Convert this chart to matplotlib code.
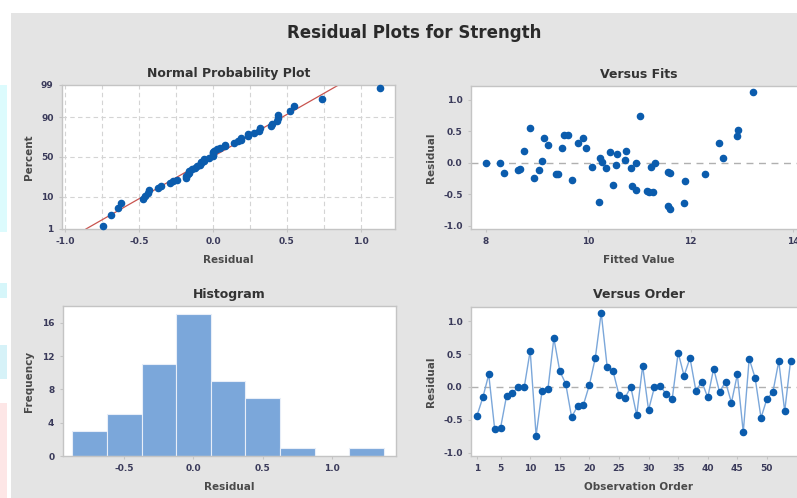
import numpy as np
import matplotlib
matplotlib.use('Agg')
import matplotlib.pyplot as plt
from matplotlib.patches import Rectangle
from statistics import NormalDist

# residuals in observation order
resid = [-0.44, -0.16, 0.19, -0.64, -0.62, -0.14, -0.09, 0.00, 0.00, 0.55,
         -0.74, -0.06, -0.03, 0.74, 0.24, 0.05, -0.46, -0.29, -0.27, 0.03,
         0.44, 1.13, 0.31, 0.24, -0.12, -0.17, 0.00, -0.43, 0.32, -0.35,
         0.00, 0.01, -0.11, -0.18, 0.52, 0.17, 0.44, -0.06, 0.08, -0.16,
         0.28, -0.08, 0.08, -0.24, 0.19, -0.69, 0.43, 0.14, -0.47, -0.18,
         -0.08, 0.39, -0.37, 0.40]
# fitted values in observation order
fitted = [11.14, 11.60, 8.75, 11.87, 10.21, 11.56, 8.66, 8.01, 8.27, 8.87,
          11.60, 11.22, 10.55, 11.01, 9.96, 10.71, 11.19, 11.88, 9.68, 9.10,
          9.52, 13.21, 12.55, 9.49, 9.03, 12.27, 10.94, 10.94, 9.80, 10.48,
          11.30, 10.27, 8.63, 9.37, 12.93, 10.42, 9.61, 10.08, 10.23, 8.36,
          9.22, 10.35, 12.62, 8.94, 10.74, 11.55, 12.90, 10.56, 11.27, 9.41,
          10.83, 9.14, 10.86, 9.89]
hist_edges = [-0.875, -0.625, -0.375, -0.125, 0.125, 0.375, 0.625, 0.875, 1.125, 1.375]
prob_ticks = [1, 10, 50, 90, 99]
order_ticks = [1, 5, 10, 15, 20, 25, 30, 35, 40, 45, 50]

resid = np.array(resid)
fitted = np.array(fitted)
n = len(resid)
obs = np.arange(1, n + 1)
nd = NormalDist()

W, H = 797, 498
fig = plt.figure(figsize=(W / 100, H / 100), dpi=100)
fig.patch.set_facecolor('white')

BG = '#e4e4e4'
BLUE = '#0b5cad'
LBLUE = '#7ba7da'
SPINE = '#c4c4c4'
TXT = '#333333'
TICK = '#3a3a5a'

# grey panel + screenshot edge artifacts
fig.patches.append(Rectangle((11 / W, 0), 1, 1 - 13 / H, transform=fig.transFigure,
                             facecolor=BG, edgecolor='none', zorder=-10))
for y0, y1, c in [(85, 232, '#dcfbfd'), (283, 298, '#d6f6fa'),
                  (345, 379, '#d6f2f8'), (403, 498, '#fde6e6')]:
    fig.patches.append(Rectangle((0, 1 - y1 / H), 7 / W, (y1 - y0) / H,
                                 transform=fig.transFigure, facecolor=c,
                                 edgecolor='none', zorder=-9))


def box(l, t, r, b):
    return [l / W, 1 - b / H, (r - l) / W, (b - t) / H]


def style(ax):
    ax.set_facecolor('white')
    for s in ax.spines.values():
        s.set_color(SPINE)
        s.set_linewidth(1.0)
    ax.tick_params(colors=SPINE, labelcolor=TICK, labelsize=6.5, length=2.5, width=0.8)
    for lab in ax.get_xticklabels() + ax.get_yticklabels():
        lab.set_fontweight('bold')


tfont = dict(fontsize=9, fontweight='bold', color=TXT)
lfont = dict(fontsize=7.5, fontweight='bold', color='#4a4a4a')

fig.text(414 / W, 1 - 33 / H, 'Residual Plots for Strength', ha='center', va='center',
         fontsize=12, fontweight='bold', color='#2a2a2a')

# Normal probability plot
ax1 = fig.add_axes(box(62, 85, 395, 229))
srt = np.sort(resid)
pp = (np.arange(1, n + 1) - 0.3) / (n + 0.4)
zz = np.array([nd.inv_cdf(p) for p in pp])
mu, sd = resid.mean(), resid.std(ddof=1)
zlo, zhi = nd.inv_cdf(0.01), nd.inv_cdf(0.99)
ax1.plot([mu + zlo * sd, mu + zhi * sd], [zlo, zhi], color='#c9544f', lw=0.9, zorder=2)
ax1.scatter(srt, zz, s=20, color=BLUE, zorder=3, clip_on=False)
ax1.set_xlim(-1.02, 1.23)
ax1.set_ylim(zlo, zhi)
ax1.set_yticks([nd.inv_cdf(p / 100) for p in prob_ticks])
ax1.set_yticklabels([str(p) for p in prob_ticks])
ax1.set_xticks(np.arange(-1.0, 1.01, 0.5))
ax1.set_xticklabels(['-1.0', '-0.5', '0.0', '0.5', '1.0'])
for x in np.arange(-1.0, 1.01, 0.25):
    ax1.axvline(x, color='#d4d4d4', lw=0.8, ls=(0, (4, 3)), zorder=1)
for p in [10, 50, 90]:
    ax1.axhline(nd.inv_cdf(p / 100), color='#d4d4d4', lw=0.8, ls=(0, (4, 3)), zorder=1)
style(ax1)
ax1.set_title('Normal Probability Plot', pad=6, **tfont)
ax1.set_xlabel('Residual', labelpad=6, **lfont)
ax1.set_ylabel('Percent', labelpad=5, **lfont)

# Versus fits
ax2 = fig.add_axes(box(471, 86, 806, 229))
ax2.axhline(0, color='#b0b0b0', lw=1.0, ls=(0, (5, 4)), zorder=1)
ax2.scatter(fitted, resid, s=20, color=BLUE, zorder=3)
ax2.set_xlim(7.71, 14.25)
ax2.set_ylim(-1.05, 1.22)
ax2.set_xticks([8, 10, 12, 14])
ax2.set_yticks([-1.0, -0.5, 0.0, 0.5, 1.0])
ax2.set_yticklabels(['-1.0', '-0.5', '0.0', '0.5', '1.0'])
style(ax2)
ax2.set_title('Versus Fits', pad=6, **tfont)
ax2.set_xlabel('Fitted Value', labelpad=6, **lfont)
ax2.set_ylabel('Residual', labelpad=5, **lfont)

# Histogram
ax3 = fig.add_axes(box(62.7, 306, 396, 456))
ax3.hist(resid, bins=hist_edges, color=LBLUE, edgecolor='#e8eef8', linewidth=0.8, zorder=2)
ax3.set_xlim(-0.945, 1.464)
ax3.set_ylim(0, 18)
ax3.set_xticks([-0.5, 0.0, 0.5, 1.0])
ax3.set_xticklabels(['-0.5', '0.0', '0.5', '1.0'])
ax3.set_yticks([0, 4, 8, 12, 16])
style(ax3)
ax3.set_title('Histogram', pad=6, **tfont)
ax3.set_xlabel('Residual', labelpad=6, **lfont)
ax3.set_ylabel('Frequency', labelpad=6, **lfont)

# Versus order
ax4 = fig.add_axes(box(471, 306.7, 806, 456))
ax4.axhline(0, color='#b0b0b0', lw=1.0, ls=(0, (5, 4)), zorder=1)
ax4.plot(obs, resid, color=LBLUE, lw=1.0, zorder=2)
ax4.scatter(obs, resid, s=20, color=BLUE, zorder=3)
ax4.set_xlim(0.0, 56.6)
ax4.set_ylim(-1.05, 1.22)
ax4.set_xticks(order_ticks)
ax4.set_yticks([-1.0, -0.5, 0.0, 0.5, 1.0])
ax4.set_yticklabels(['-1.0', '-0.5', '0.0', '0.5', '1.0'])
style(ax4)
ax4.set_title('Versus Order', pad=6, **tfont)
ax4.set_xlabel('Observation Order', labelpad=6, **lfont)
ax4.set_ylabel('Residual', labelpad=5, **lfont)

fig.savefig('out.png', dpi=100, facecolor=fig.get_facecolor())
